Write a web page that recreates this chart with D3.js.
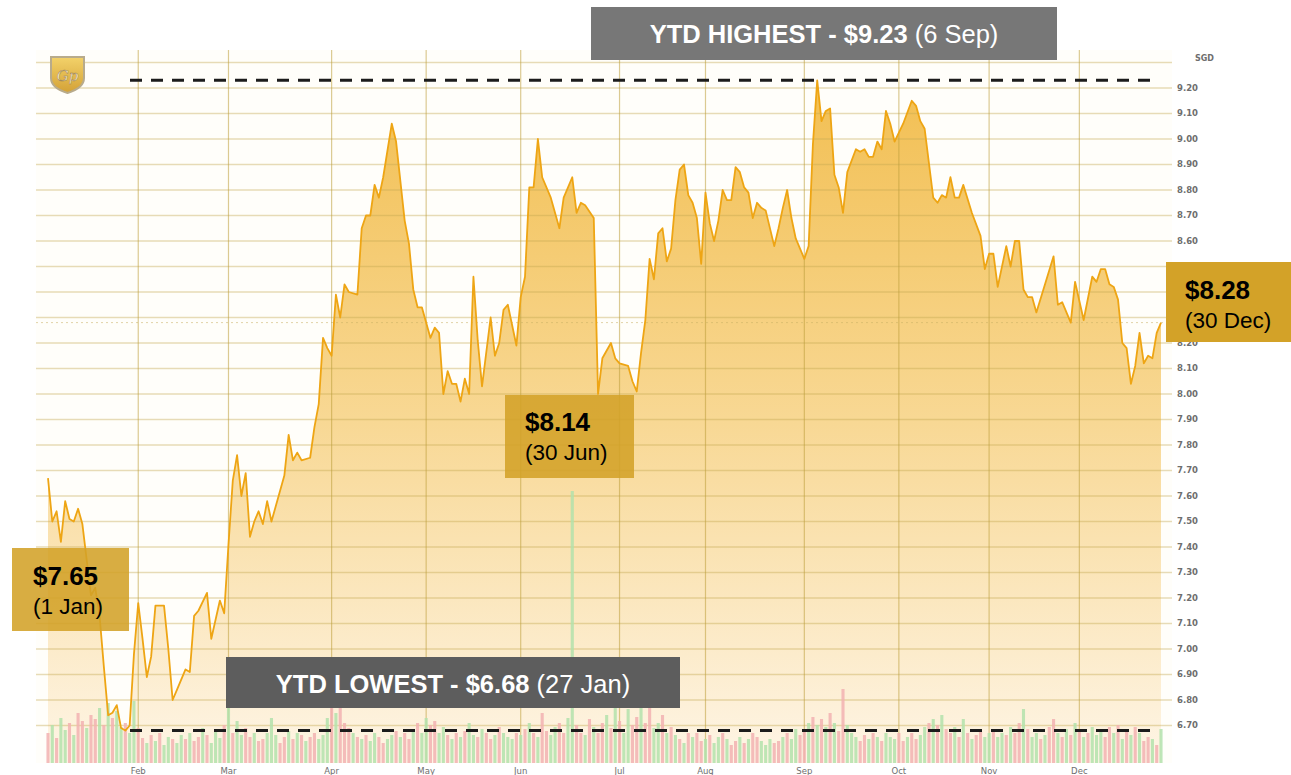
<!DOCTYPE html>
<html>
<head>
<meta charset="utf-8">
<script src="https://cdn.jsdelivr.net/npm/d3@7"></script>
<style>
  body { margin: 0; background: #fff; }
  svg { display: block; }
</style>
</head>
<body>
<svg id="chart" width="1291" height="775"></svg>
<script>
// trading-day index (0 = first session of the year) of each turning point on the price line
const tradingDay = [0,1,2,3,4,5,6,7,8,10,11,12,13,14,15,16,17,18,19,20,
  21,22,23,24,25,27,28,29,30,32,33,34,35,37,38,40,41,42,43,44,
  45,46,47,48,49,50,51,52,55,56,57,58,59,61,62,63,64,65,66,67,
  68,69,70,72,73,74,75,76,77,78,80,81,83,84,85,86,87,89,90,91,
  92,93,94,95,96,97,98,99,100,101,103,104,105,106,107,109,110,111,112,113,
  114,115,117,119,120,122,123,124,125,127,128,129,131,132,133,135,136,137,138,139,
  140,141,142,143,144,145,146,147,148,149,150,151,152,153,154,155,156,157,158,159,
  160,161,162,163,164,165,166,167,169,170,171,172,173,174,176,177,178,179,180,181,
  182,183,184,185,186,188,189,190,191,192,193,194,195,196,197,199,201,202,203,204,
  206,207,208,209,210,211,212,213,215,217,218,219,220,221,223,224,225,226,227,228,
  229,230,234,235,236,238,239,241,243,244,245,246,247,248,249,250,251,252,253,254,
  255,256,257,258,259];

// closing price (SGD) at those sessions
const price = [7.67,7.50,7.54,7.42,7.58,7.51,7.50,7.55,7.49,7.21,7.24,7.13,6.93,6.74,6.75,6.78,6.69,6.68,6.70,6.98,
  7.18,7.04,6.89,6.97,7.17,7.17,7.00,6.80,6.84,6.92,6.91,7.13,7.15,7.22,7.04,7.19,7.14,7.41,7.66,7.76,
  7.60,7.69,7.44,7.50,7.54,7.49,7.58,7.50,7.68,7.84,7.74,7.77,7.74,7.75,7.87,7.96,8.22,8.18,8.15,8.39,
  8.30,8.43,8.40,8.39,8.65,8.70,8.70,8.82,8.77,8.85,9.06,8.99,8.68,8.59,8.41,8.34,8.34,8.22,8.26,8.24,
  8.00,8.09,8.04,8.04,7.97,8.06,8.00,8.46,8.21,8.03,8.30,8.15,8.20,8.33,8.35,8.19,8.38,8.46,8.81,8.81,
  9.00,8.85,8.77,8.65,8.77,8.85,8.71,8.75,8.74,8.69,8.00,8.14,8.20,8.14,8.12,8.11,8.05,8.01,8.16,8.29,
  8.53,8.45,8.63,8.65,8.52,8.57,8.76,8.88,8.90,8.78,8.75,8.69,8.51,8.79,8.67,8.60,8.68,8.80,8.76,8.76,
  8.89,8.87,8.81,8.79,8.69,8.75,8.73,8.72,8.58,8.65,8.73,8.80,8.69,8.61,8.53,8.58,8.98,9.23,9.07,9.11,
  9.12,8.86,8.81,8.71,8.87,8.96,8.95,8.96,8.93,8.93,8.99,8.96,9.11,9.06,8.99,9.06,9.15,9.13,9.07,9.04,
  8.77,8.75,8.78,8.77,8.85,8.77,8.77,8.82,8.71,8.62,8.49,8.55,8.55,8.42,8.58,8.50,8.60,8.60,8.41,8.38,
  8.38,8.32,8.54,8.35,8.36,8.28,8.44,8.29,8.46,8.44,8.49,8.49,8.43,8.42,8.37,8.20,8.18,8.04,8.11,8.24,
  8.12,8.15,8.14,8.24,8.28];

// month axis
const monthLabels = ["Feb","Mar","Apr","May","Jun","Jul","Aug","Sep","Oct","Nov","Dec"];
const monthStartDay = [21,42,66,88,110,133,153,176,198,219,240];

// daily volume (one per session) and whether the session closed up (g) or down (r)
const volume = [30,38,25,45,33,40,28,50,42,35, 48,44,55,38,60,45,52,36,40,30,
  62,35,25,20,28,22,30,18,26,24, 20,28,24,30,22,26,35,28,20,32,
  25,38,55,30,42,28,35,26,30,22, 24,30,45,28,20,26,32,24,30,28,
  22,26,30,24,28,45,55,50,60,40, 35,30,26,24,28,22,30,26,20,24,
  28,32,26,30,24,34,40,30,45,38, 42,30,36,28,24,30,26,32,40,28,
  26,34,30,24,28,36,30,26,24,30, 28,34,40,30,26,50,32,28,36,40,
  30,45,272,38,30,28,44,36,30,40, 48,35,60,42,30,54,38,46,55,40,
  62,35,40,48,30,36,28,24,20,30, 26,30,22,24,28,20,26,30,24,18,
  22,26,20,24,30,26,22,18,24,20, 22,26,30,24,34,28,32,40,46,38,
  44,36,50,40,32,74,38,30,26,22, 28,24,30,26,22,30,26,24,30,22,
  26,30,24,28,36,40,44,38,48,34, 30,36,26,44,30,24,28,32,26,30,
  34,26,30,28,36,30,40,54,34,26, 30,24,28,36,44,30,26,34,28,40,
  32,26,30,36,28,34,26,36,30,38, 24,32,28,36,30,22,26,24,18,34];
const volumeDir = ("rgrggrgrrg" + "rrgrgrggrg" + "grrgrgrggr" + "ggrgrrgrgg" + "grgrggrrgr" +
  "rgggrrgrgr" + "grrgggrgrr" + "rgrgrggrrg" + "grgrrgrggr" + "rggrgrgrgg" +
  "rgrrgrgggr" + "grgrgrrggr" + "rggrrgrgrr" + "grgrggrrgr" + "rggrgrgrgr" +
  "grrgrggrgr" + "rgrgrrgggr" + "rgrggrrgrg" + "rgrgrrgggr" + "rgrgrgggrr" +
  "grrggrgrgr" + "rgrgrgrrgg" + "rggrgrrgrg" + "grgrrgrgrg" + "rgrgggrrgr" + "grgrgrrgrg").split("");

// annotations
const ytdHigh = 9.23, ytdHighDate = "(6 Sep)";
const ytdLow = 6.68, ytdLowDate = "(27 Jan)";
const calloutPrice = ["$7.65", "$8.14", "$8.28"];
const calloutDate = ["(1 Jan)", "(30 Jun)", "(30 Dec)"];
const lastPrice = price[price.length - 1];

const svg = d3.select("#chart");
const plot = { left: 36, right: 1172, top: 50, bottom: 763 };

const x = d3.scaleLinear().domain([0, 259]).range([48, 1161]);
const y = d3.scaleLinear().domain([6.7, 9.3]).range([725.5, 62.5]);
const v = d3.scaleLinear().domain([0, 100]).range([plot.bottom, plot.bottom - 100]);

const data = tradingDay.map((d, i) => ({ i: d, p: price[i] }));

// gradients
const defs = svg.append("defs");
const grad = defs.append("linearGradient")
  .attr("id", "fillGrad").attr("gradientUnits", "userSpaceOnUse")
  .attr("x1", 0).attr("y1", 80).attr("x2", 0).attr("y2", plot.bottom);
grad.append("stop").attr("offset", 0).attr("stop-color", "#f2bf52");
grad.append("stop").attr("offset", 0.5).attr("stop-color", "#f8d894");
grad.append("stop").attr("offset", 1).attr("stop-color", "#fef5e6");

const shieldGrad = defs.append("linearGradient")
  .attr("id", "shieldGrad").attr("x1", 0).attr("y1", 0).attr("x2", 0).attr("y2", 1);
shieldGrad.append("stop").attr("offset", 0).attr("stop-color", "#f3d26a");
shieldGrad.append("stop").attr("offset", 1).attr("stop-color", "#d3a136");

// plot background
svg.append("rect")
  .attr("x", plot.left).attr("y", plot.top)
  .attr("width", plot.right - plot.left).attr("height", plot.bottom - plot.top)
  .attr("fill", "#fffefa");

// price area
svg.append("path")
  .datum(data)
  .attr("fill", "url(#fillGrad)")
  .attr("d", d3.area().x(d => x(d.i)).y0(plot.bottom).y1(d => y(d.p)));

// horizontal grid lines every 0.10
const gridValues = d3.range(67, 94).map(d => d / 10);
svg.append("g").selectAll("line")
  .data(gridValues)
  .join("line")
  .attr("x1", plot.left).attr("x2", plot.right)
  .attr("y1", d => y(d)).attr("y2", d => y(d))
  .attr("stroke", "rgba(196,168,80,0.4)")
  .attr("stroke-width", 1.5);

// last price reference line
svg.append("line")
  .attr("x1", plot.left).attr("x2", plot.right)
  .attr("y1", y(lastPrice)).attr("y2", y(lastPrice))
  .attr("stroke", "rgba(200,175,100,0.55)")
  .attr("stroke-dasharray", "2,3");

// month grid lines
svg.append("g").selectAll("line")
  .data(monthStartDay)
  .join("line")
  .attr("x1", d => x(d)).attr("x2", d => x(d))
  .attr("y1", plot.top).attr("y2", plot.bottom)
  .attr("stroke", "rgba(190,158,60,0.55)")
  .attr("stroke-width", 1.2);

// volume bars
const barW = (x(1) - x(0)) * 0.72;
svg.append("g").selectAll("rect")
  .data(volume)
  .join("rect")
  .attr("x", (d, i) => x(i) - barW / 2)
  .attr("y", d => v(d))
  .attr("width", barW)
  .attr("height", d => plot.bottom - v(d))
  .attr("fill", (d, i) => volumeDir[i] === "g" ? "#b3e2ab" : "#f2b2b2")
  .attr("opacity", 0.85);

// price line
svg.append("path")
  .datum(data)
  .attr("fill", "none")
  .attr("stroke", "#eea514")
  .attr("stroke-width", 1.8)
  .attr("stroke-linejoin", "round")
  .attr("d", d3.line().x(d => x(d.i)).y(d => y(d.p)));

// YTD high / low dashed lines
svg.append("g").selectAll("line")
  .data([ytdHigh, ytdLow])
  .join("line")
  .attr("x1", 130).attr("x2", 1154)
  .attr("y1", d => y(d)).attr("y2", d => y(d))
  .attr("stroke", "#1c1c1c")
  .attr("stroke-width", 3)
  .attr("stroke-dasharray", "12,9");

// right axis labels (the ones under the last-price box are hidden there)
const axis = svg.append("g")
  .attr("font-family", "DejaVu Sans, Verdana, sans-serif")
  .attr("font-size", 8.5)
  .attr("font-weight", "bold")
  .attr("fill", "#6e6e6e");
axis.selectAll("text.tick")
  .data(gridValues.filter(d => d < 9.25 && !(y(d) > 262 && y(d) < 338)))
  .join("text")
  .attr("class", "tick")
  .attr("x", 1177)
  .attr("y", d => y(d))
  .attr("dy", "0.35em")
  .text(d => d.toFixed(2));
axis.append("text")
  .attr("x", 1195).attr("y", 58).attr("dy", "0.35em")
  .attr("font-size", 8)
  .text("SGD");
axis.selectAll("text.month")
  .data(monthStartDay)
  .join("text")
  .attr("class", "month")
  .attr("x", d => x(d))
  .attr("y", 771)
  .attr("dy", "0.35em")
  .attr("text-anchor", "middle")
  .attr("font-weight", "normal")
  .text((d, i) => monthLabels[i]);

// logo shield
svg.append("path")
  .attr("d", "M51,57 L84,57 L84,78 Q84,88 67.5,93 Q51,88 51,78 Z")
  .attr("fill", "url(#shieldGrad)")
  .attr("stroke", "#b8ab8c")
  .attr("stroke-width", 2);
svg.append("text")
  .attr("x", 67.5).attr("y", 81)
  .attr("text-anchor", "middle")
  .attr("font-family", "DejaVu Serif, serif")
  .attr("font-style", "italic")
  .attr("font-size", 15)
  .attr("fill", "#fff6d8")
  .attr("stroke", "#9c8250")
  .attr("stroke-width", 0.5)
  .text("Gp");

// annotation boxes
const font = "Liberation Sans, Arial, sans-serif";

function greyBanner(bx, by, bw, bh, fill, strong, light, baseline) {
  svg.append("rect")
    .attr("x", bx).attr("y", by).attr("width", bw).attr("height", bh)
    .attr("fill", fill);
  const t = svg.append("text")
    .attr("x", bx + bw / 2).attr("y", baseline)
    .attr("text-anchor", "middle")
    .attr("font-family", font)
    .attr("font-size", 25.5)
    .attr("fill", "#fff");
  t.append("tspan").attr("font-weight", "bold").text(strong + " ");
  t.append("tspan").text(light);
}
greyBanner(591, 7, 466, 53, "#777777", "YTD HIGHEST - $" + ytdHigh.toFixed(2), ytdHighDate, 43);
greyBanner(226, 657, 454, 51, "#5d5d5d", "YTD LOWEST - $" + ytdLow.toFixed(2), ytdLowDate, 693);

const callouts = [
  { bx: 12, by: 548, bw: 117, bh: 83, tx: 33, b1: 585, b2: 614 },
  { bx: 505, by: 395, bw: 129, bh: 83, tx: 525, b1: 431, b2: 460 },
  { bx: 1166, by: 262, bw: 125, bh: 80, tx: 1185, b1: 299, b2: 328 }
];
callouts.forEach((c, i) => {
  svg.append("rect")
    .attr("x", c.bx).attr("y", c.by).attr("width", c.bw).attr("height", c.bh)
    .attr("fill", "#d3a228").attr("opacity", i === 2 ? 1 : 0.88);
  svg.append("text")
    .attr("x", c.tx).attr("y", c.b1)
    .attr("font-family", font).attr("font-size", 26).attr("font-weight", "bold")
    .attr("fill", "#000")
    .text(calloutPrice[i]);
  svg.append("text")
    .attr("x", c.tx).attr("y", c.b2)
    .attr("font-family", font).attr("font-size", 22.5)
    .attr("fill", "#000")
    .text(calloutDate[i]);
});
</script>
</body>
</html>
